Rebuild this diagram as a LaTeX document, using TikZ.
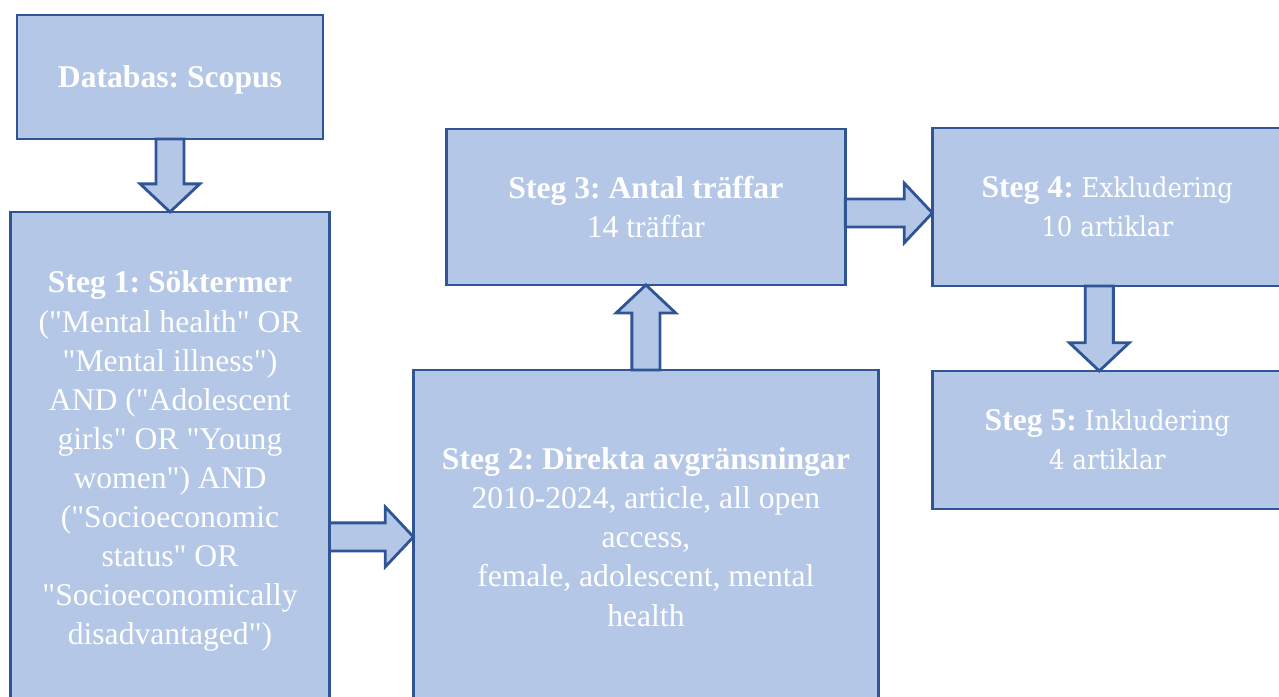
\documentclass[tikz,border=0pt]{standalone}
\usepackage{fontspec}
\setmainfont{Liberation Serif}
\newfontfamily\camfont{DejaVu Serif Condensed}
\usepackage{tikz}
\usetikzlibrary{positioning,calc}
\definecolor{boxfill}{HTML}{B4C7E7}
\definecolor{boxline}{HTML}{2F5597}
\frenchspacing
\newcommand{\stepbold}[1]{\textbf{#1}}
\newcommand{\camtext}[1]{{\camfont\fontsize{15.5}{22}\selectfont #1}}
\newcommand{\qq}{\textquotedbl}
\tikzset{
  box/.style   ={rectangle,draw=boxline,line width=1.6pt,fill=boxfill,outer sep=0pt,
                 inner sep=4pt,text depth=0pt,align=center,text=white,
                 font=\fontsize{18}{22.25}\selectfont},
  blockarrow/.style={draw=boxline,line width=1.6pt,fill=boxfill,line join=miter,
                 to path={let \p1=($(\tikztotarget)-(\tikztostart)$),
                   \n1={atan2(\y1,\x1)}, \n2={veclen(\x1,\y1)-16} in
                   -- ($(\tikztostart)+(\n1+90:8pt)$)
                   -- ($(\tikztostart)+(\n1:\n2)+(\n1+90:8pt)$)
                   -- ($(\tikztostart)+(\n1:\n2)+(\n1+90:17pt)$)
                   -- (\tikztotarget)
                   -- ($(\tikztostart)+(\n1:\n2)+(\n1-90:17pt)$)
                   -- ($(\tikztostart)+(\n1:\n2)+(\n1-90:8pt)$)
                   -- ($(\tikztostart)+(\n1-90:8pt)$)
                   -- cycle}}
}
\begin{document}
\begin{tikzpicture}[x=0.02cm,y=-0.02cm,node distance=1.7cm]
    \useasboundingbox (0,0) rectangle (1279,697);
    \node[box,minimum width=6.12cm,minimum height=2.48cm] (db) at (170,77) {\stepbold{Databas: Scopus}};
    \node[box,below=1.46cm of db,minimum width=6.38cm,minimum height=9.84cm] (s1) {\stepbold{Steg 1: Söktermer}\\(\qq Mental health\qq{} OR\\\qq Mental illness\qq)\\AND (\qq Adolescent\\girls\qq{} OR \qq Young\\women\qq) AND\\(\qq Socioeconomic\\status\qq{} OR\\\qq Socioeconomically\\disadvantaged\qq)};
    \node[box,right=1.68cm of s1.south east,anchor=south west,minimum width=9.3cm,minimum height=6.68cm] (s2) {\stepbold{Steg 2: Direkta avgränsningar}\\2010-2024, article, all open\\access,\\female, adolescent, mental\\health};
    \node[box,above=of s2,minimum width=7.98cm,minimum height=3.12cm] (s3) {\stepbold{Steg 3: Antal träffar}\\14 träffar};
    \node[box,right=1.74cm of s3,minimum width=7.0cm,minimum height=3.16cm] (s4) {\stepbold{Steg 4:} \camtext{Exkludering}\\\camtext{10 artiklar}};
    \node[box,below=of s4,minimum width=7.0cm,minimum height=2.76cm] (s5) {\stepbold{Steg 5:} \camtext{Inkludering}\\\camtext{4 artiklar}};

    \draw[blockarrow] (db.south) to (s1.north);
    \draw[blockarrow] (s1.east |- s2.west) to (s2.west);
    \draw[blockarrow] (s2.north) to (s3.south);
    \draw[blockarrow] ($(s3.east)+(0,6)$) to ($(s4.west)+(0,6)$);
    \draw[blockarrow] ($(s4.south)+(-8,0)$) to ($(s5.north)+(-8,0)$);
\end{tikzpicture}
\end{document}
